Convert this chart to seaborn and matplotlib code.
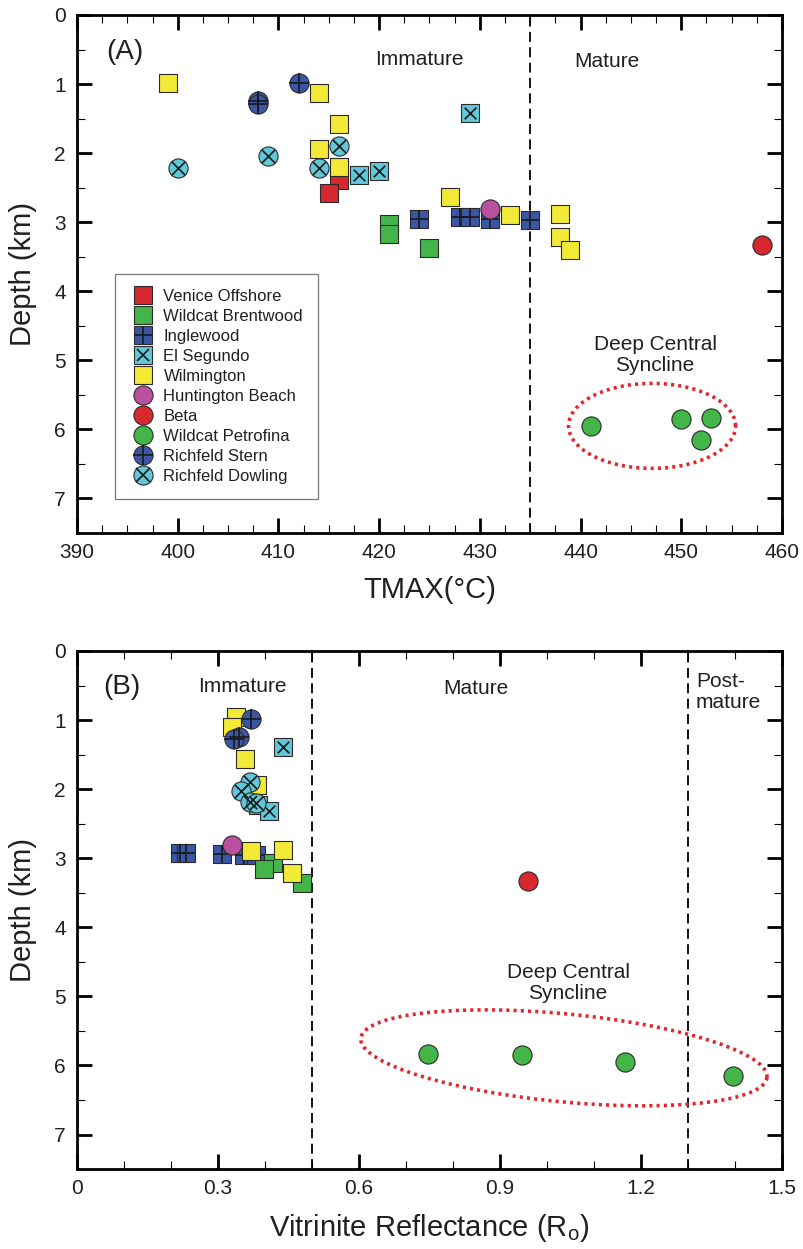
import numpy as np
import pandas as pd
import matplotlib
matplotlib.use("Agg")
import matplotlib.pyplot as plt
import seaborn as sns
from matplotlib.lines import Line2D
from matplotlib.legend_handler import HandlerTuple
from matplotlib.ticker import MultipleLocator

# ---------------- data ----------------
series_names = ["Venice Offshore", "Wildcat Brentwood", "Inglewood", "El Segundo",
                "Wilmington", "Huntington Beach", "Beta", "Wildcat Petrofina",
                "Richfeld Stern", "Richfeld Dowling"]

# Panel A: TMAX (deg C) vs depth (km)
venice_tmax = [416, 415]
venice_depth_a = [2.39, 2.58]
brentwood_tmax = [421, 421, 425]
brentwood_depth_a = [3.03, 3.17, 3.37]
inglewood_tmax = [424, 428, 429, 431, 435]
inglewood_depth_a = [2.95, 2.92, 2.92, 2.95, 2.97]
elsegundo_tmax = [429, 418, 420]
elsegundo_depth_a = [1.42, 2.32, 2.26]
wilmington_tmax = [399, 414, 416, 414, 416, 427, 433, 438, 438, 439]
wilmington_depth_a = [0.98, 1.13, 1.58, 1.94, 2.20, 2.63, 2.90, 2.88, 3.21, 3.40]
huntington_tmax = [431]
huntington_depth_a = [2.81]
beta_tmax = [458]
beta_depth_a = [3.33]
petrofina_tmax = [441, 450, 453, 452]
petrofina_depth_a = [5.95, 5.85, 5.83, 6.15]
stern_tmax = [412, 408, 408]
stern_depth_a = [0.98, 1.25, 1.29]
dowling_tmax = [400, 409, 414, 416]
dowling_depth_a = [2.21, 2.04, 2.21, 1.90]

# Panel B: vitrinite reflectance (Ro) vs depth (km)
venice_ro = []
venice_depth_b = []
brentwood_ro = [0.417, 0.398, 0.479]
brentwood_depth_b = [3.07, 3.16, 3.36]
inglewood_ro = [0.220, 0.232, 0.308, 0.355, 0.380]
inglewood_depth_b = [2.93, 2.93, 2.94, 2.96, 2.95]
elsegundo_ro = [0.439, 0.385, 0.408]
elsegundo_depth_b = [1.39, 2.23, 2.32]
wilmington_ro = [0.338, 0.330, 0.357, 0.382, 0.370, 0.438, 0.457]
wilmington_depth_b = [0.96, 1.10, 1.57, 1.94, 2.90, 2.88, 3.21]
huntington_ro = [0.330]
huntington_depth_b = [2.81]
beta_ro = [0.96]
beta_depth_b = [3.33]
petrofina_ro = [0.747, 0.947, 1.166, 1.396]
petrofina_depth_b = [5.83, 5.85, 5.95, 6.15]
stern_ro = [0.370, 0.345, 0.333]
stern_depth_b = [0.99, 1.24, 1.27]
dowling_ro = [0.368, 0.349, 0.368, 0.381]
dowling_depth_b = [1.90, 2.03, 2.19, 2.20]

panel_a = {
    "Venice Offshore": (venice_tmax, venice_depth_a),
    "Wildcat Brentwood": (brentwood_tmax, brentwood_depth_a),
    "Inglewood": (inglewood_tmax, inglewood_depth_a),
    "El Segundo": (elsegundo_tmax, elsegundo_depth_a),
    "Wilmington": (wilmington_tmax, wilmington_depth_a),
    "Huntington Beach": (huntington_tmax, huntington_depth_a),
    "Beta": (beta_tmax, beta_depth_a),
    "Wildcat Petrofina": (petrofina_tmax, petrofina_depth_a),
    "Richfeld Stern": (stern_tmax, stern_depth_a),
    "Richfeld Dowling": (dowling_tmax, dowling_depth_a),
}
panel_b = {
    "Venice Offshore": (venice_ro, venice_depth_b),
    "Wildcat Brentwood": (brentwood_ro, brentwood_depth_b),
    "Inglewood": (inglewood_ro, inglewood_depth_b),
    "El Segundo": (elsegundo_ro, elsegundo_depth_b),
    "Wilmington": (wilmington_ro, wilmington_depth_b),
    "Huntington Beach": (huntington_ro, huntington_depth_b),
    "Beta": (beta_ro, beta_depth_b),
    "Wildcat Petrofina": (petrofina_ro, petrofina_depth_b),
    "Richfeld Stern": (stern_ro, stern_depth_b),
    "Richfeld Dowling": (dowling_ro, dowling_depth_b),
}

# ---------------- styles ----------------
RED = "#d7282f"
GREEN = "#43b549"
BLUE = "#3b56a5"
CYAN = "#62c7d7"
YELLOW = "#f2ea36"
MAGENTA = "#b9519f"
EDGE = "#2b2b2b"
TXT = "#231f20"

SQ = 150   # square marker area (pt^2)
CI = 190   # circle marker area

styles = {
    "Venice Offshore":   dict(color=RED, marker="s", s=SQ, sym=None),
    "Wildcat Brentwood": dict(color=GREEN, marker="s", s=SQ, sym=None),
    "Inglewood":         dict(color=BLUE, marker="s", s=SQ, sym=("+", SQ)),
    "El Segundo":        dict(color=CYAN, marker="s", s=SQ, sym=("x", 70)),
    "Wilmington":        dict(color=YELLOW, marker="s", s=SQ, sym=None),
    "Huntington Beach":  dict(color=MAGENTA, marker="o", s=CI, sym=None),
    "Beta":              dict(color=RED, marker="o", s=CI, sym=None),
    "Wildcat Petrofina": dict(color=GREEN, marker="o", s=CI, sym=None),
    "Richfeld Stern":    dict(color=BLUE, marker="o", s=CI, sym=("+", CI)),
    "Richfeld Dowling":  dict(color=CYAN, marker="o", s=CI, sym=("x", 92)),
}
draw_order = ["Inglewood", "Venice Offshore", "Wildcat Brentwood", "El Segundo",
              "Wilmington", "Huntington Beach", "Beta", "Wildcat Petrofina",
              "Richfeld Stern", "Richfeld Dowling"]

sns.set_style("ticks")
plt.rcParams["font.family"] = ["Liberation Sans", "DejaVu Sans"]
plt.rcParams["text.color"] = TXT
plt.rcParams["axes.labelcolor"] = TXT
plt.rcParams["xtick.color"] = "black"
plt.rcParams["ytick.color"] = "black"
plt.rcParams["xtick.labelcolor"] = TXT
plt.rcParams["ytick.labelcolor"] = TXT
plt.rcParams["mathtext.default"] = "regular"

fig = plt.figure(figsize=(8.04, 12.49), dpi=100)
ax_a = fig.add_axes([0.0958, 0.5733, 0.8768, 0.4147])
ax_b = fig.add_axes([0.0958, 0.0640, 0.8768, 0.4148])


def draw_points(ax, panel):
    for name in draw_order:
        xs, ys = panel[name]
        if len(xs) == 0:
            continue
        st = styles[name]
        df = pd.DataFrame({"x": xs, "y": ys})
        sns.scatterplot(data=df, x="x", y="y", ax=ax, marker=st["marker"], s=st["s"],
                        color=st["color"], edgecolor=EDGE, linewidth=0.8,
                        legend=False, zorder=3)
        if st["sym"] is not None:
            sym, ss = st["sym"]
            sns.scatterplot(data=df, x="x", y="y", ax=ax, marker=sym, s=ss,
                            color="#1a1a1a", linewidth=1.2, legend=False, zorder=3)


def dotted_ellipse(ax, cx, cy, a_px, b_px, ang_deg):
    t = np.linspace(0, 2 * np.pi, 500)
    ang = np.deg2rad(ang_deg)
    c = ax.transData.transform((cx, cy))
    dx = a_px * np.cos(t) * np.cos(ang) - b_px * np.sin(t) * np.sin(ang)
    dy = a_px * np.cos(t) * np.sin(ang) + b_px * np.sin(t) * np.cos(ang)
    pts = ax.transData.inverted().transform(np.column_stack([c[0] + dx, c[1] + dy]))
    ax.plot(pts[:, 0], pts[:, 1], color="#e3262c", lw=2.6,
            ls=(0, (0.85, 1.15)), dash_capstyle="butt", zorder=2)


def style_axes(ax, xmajor, xminor):
    ax.set_ylim(7.5, 0)
    ax.yaxis.set_major_locator(MultipleLocator(1))
    ax.yaxis.set_minor_locator(MultipleLocator(0.5))
    ax.xaxis.set_major_locator(MultipleLocator(xmajor))
    ax.xaxis.set_minor_locator(MultipleLocator(xminor))
    ax.tick_params(which="both", direction="in", top=True, right=True)
    ax.tick_params(which="major", length=11, width=2.0, labelsize=15)
    ax.tick_params(axis="x", which="major", pad=7)
    ax.tick_params(axis="y", which="major", pad=8)
    ax.tick_params(which="minor", length=6, width=0.8)
    for sp in ax.spines.values():
        sp.set_linewidth(2.0)
        sp.set_color("black")
    ax.set_ylabel("Depth (km)", fontsize=21, labelpad=12)


# ---------------- panel A ----------------
ax = ax_a
ax.set_xlim(390, 460)
style_axes(ax, 10, 2.5)
ax.axvline(435, color="black", lw=1.3, ls=(0, (5.5, 3)), zorder=1)
draw_points(ax, panel_a)
ax.set_xlabel("TMAX(°C)", fontsize=21, labelpad=10)
ax.text(394.8, 0.54, "(A)", fontsize=20, ha="center", va="center")
ax.text(424, 0.65, "Immature", fontsize=15, ha="center", va="center")
ax.text(442.6, 0.67, "Mature", fontsize=15, ha="center", va="center")
ax.text(447.4, 4.92, "Deep Central\nSyncline", fontsize=15, ha="center", va="center",
        linespacing=1.15)
dotted_ellipse(ax, 447.1, 5.95, 83.5, 42.5, 0)

handles = []
for name in series_names:
    st = styles[name]
    ms = np.sqrt(st["s"])
    base = Line2D([], [], ls="", marker=st["marker"], ms=ms, mfc=st["color"],
                  mec=EDGE, mew=0.8)
    if st["sym"] is not None:
        sym, ss = st["sym"]
        over = Line2D([], [], ls="", marker=sym, ms=np.sqrt(ss), color="#1a1a1a", mew=1.2)
        handles.append((base, over))
    else:
        handles.append((base,))
leg = ax.legend(handles, series_names, handler_map={tuple: HandlerTuple(ndivide=1)},
                loc="upper left", bbox_to_anchor=(0.054, 0.5), borderaxespad=0,
                fontsize=12, frameon=True, fancybox=False, borderpad=0.9,
                handlelength=1.6, handletextpad=0.4, labelspacing=0.3)
leg.get_frame().set_edgecolor("#555555")
leg.get_frame().set_linewidth(0.9)

# ---------------- panel B ----------------
ax = ax_b
ax.set_xlim(0, 1.5)
style_axes(ax, 0.3, 0.1)
ax.xaxis.set_major_formatter(matplotlib.ticker.FuncFormatter(
    lambda v, p: "0" if abs(v) < 1e-9 else f"{v:.1f}"))
ax.axvline(0.5, color="black", lw=1.3, ls=(0, (5.5, 3)), zorder=1)
ax.axvline(1.3, color="black", lw=1.3, ls=(0, (5.5, 3)), zorder=1)
draw_points(ax, panel_b)
ax.set_xlabel("Vitrinite Reflectance (R$_\\mathregular{o}$)", fontsize=21, labelpad=10)
ax.text(0.096, 0.52, "(B)", fontsize=20, ha="center", va="center")
ax.text(0.351, 0.52, "Immature", fontsize=15, ha="center", va="center")
ax.text(0.849, 0.55, "Mature", fontsize=15, ha="center", va="center")
ax.text(1.317, 0.59, "Post-\nmature", fontsize=15, ha="left", va="center",
        linespacing=1.15)
ax.text(1.045, 4.81, "Deep Central\nSyncline", fontsize=15, ha="center", va="center",
        linespacing=1.15)
dotted_ellipse(ax, 1.036, 5.89, 204, 44, -5.5)

fig.savefig("out.png", dpi=100)
